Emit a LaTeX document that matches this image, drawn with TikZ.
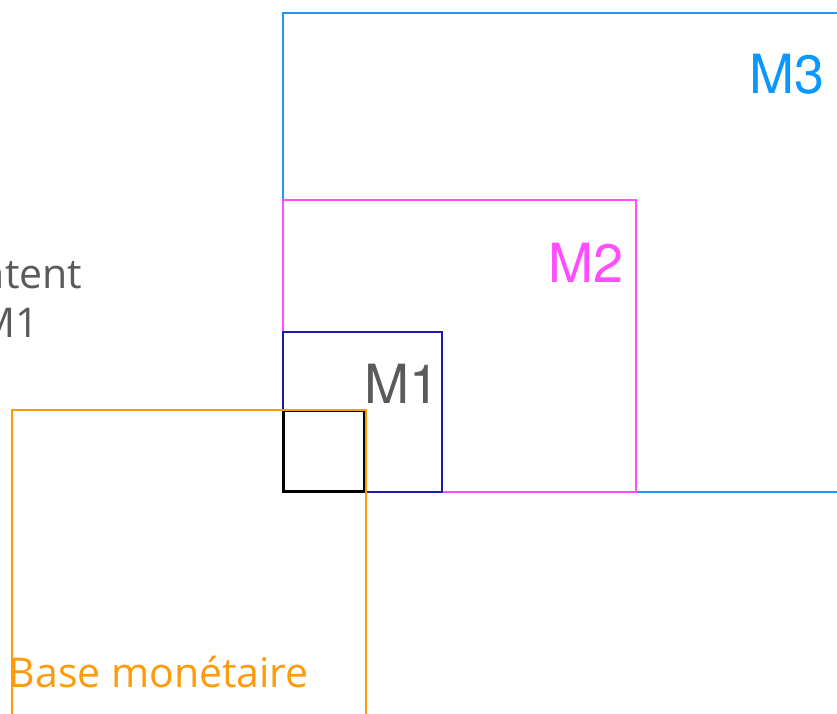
\documentclass[tikz,border=0pt]{standalone}
\usepackage{fontspec}
\setmainfont{Open Sans}
\newfontfamily\labelfont{TeX Gyre Heros}
\usetikzlibrary{shadows}
\definecolor{mthree}{HTML}{2196F3}
\definecolor{mthreetext}{HTML}{0A98FF}
\definecolor{mtwo}{HTML}{FF4DFF}
\definecolor{mone}{HTML}{1C1CA8}
\definecolor{greytext}{HTML}{5A5A5A}
\definecolor{base}{HTML}{FF9A0A}
\tikzset{
  frame/.style={draw, line width=1.3pt, inner sep=0pt, outer sep=0pt, anchor=north west},
  aggr/.style={font=\labelfont\fontsize{54}{54}\selectfont, inner sep=0pt, anchor=base east},
  plain/.style={font=\fontsize{41}{49}\selectfont, inner sep=0pt}
}
\begin{document}
\begin{tikzpicture}[x=1pt,y=-1pt]
\useasboundingbox (0,0) rectangle (837,713);
\clip (0,0) rectangle (837,713);
% nested money aggregates
\node[frame, mthree, minimum width=600pt, minimum height=479pt] (m3) at (283,13) {};
\node[frame, mtwo, minimum width=353pt, minimum height=292pt] (m2) at (283,200) {};
\node[frame, mone, minimum width=159pt, minimum height=160pt] (m1) at (283,332) {};
\node[frame, black, fill=white, line width=2.2pt, minimum width=81pt, minimum height=81pt,
      drop shadow={shadow xshift=1pt, shadow yshift=-1.5pt, opacity=0.35, fill=black!60}] (core) at (283.5,410.5) {};
% monetary base
\node[frame, base, minimum width=354pt, minimum height=320pt] (mb) at (12,410) {};
% labels
\node[aggr, mthreetext] (l3) at (825,93) {M3};
\node[aggr, mtwo] (l2) at (624,282) {M2};
\node[aggr, greytext] (l1) at (440,403) {M1};
\node[plain, base, anchor=base west] (lb) at (8.5,687) {Base monétaire};
\node[plain, greytext, align=center, anchor=base] (side) at (9,337) {content\\M1};
\end{tikzpicture}
\end{document}
